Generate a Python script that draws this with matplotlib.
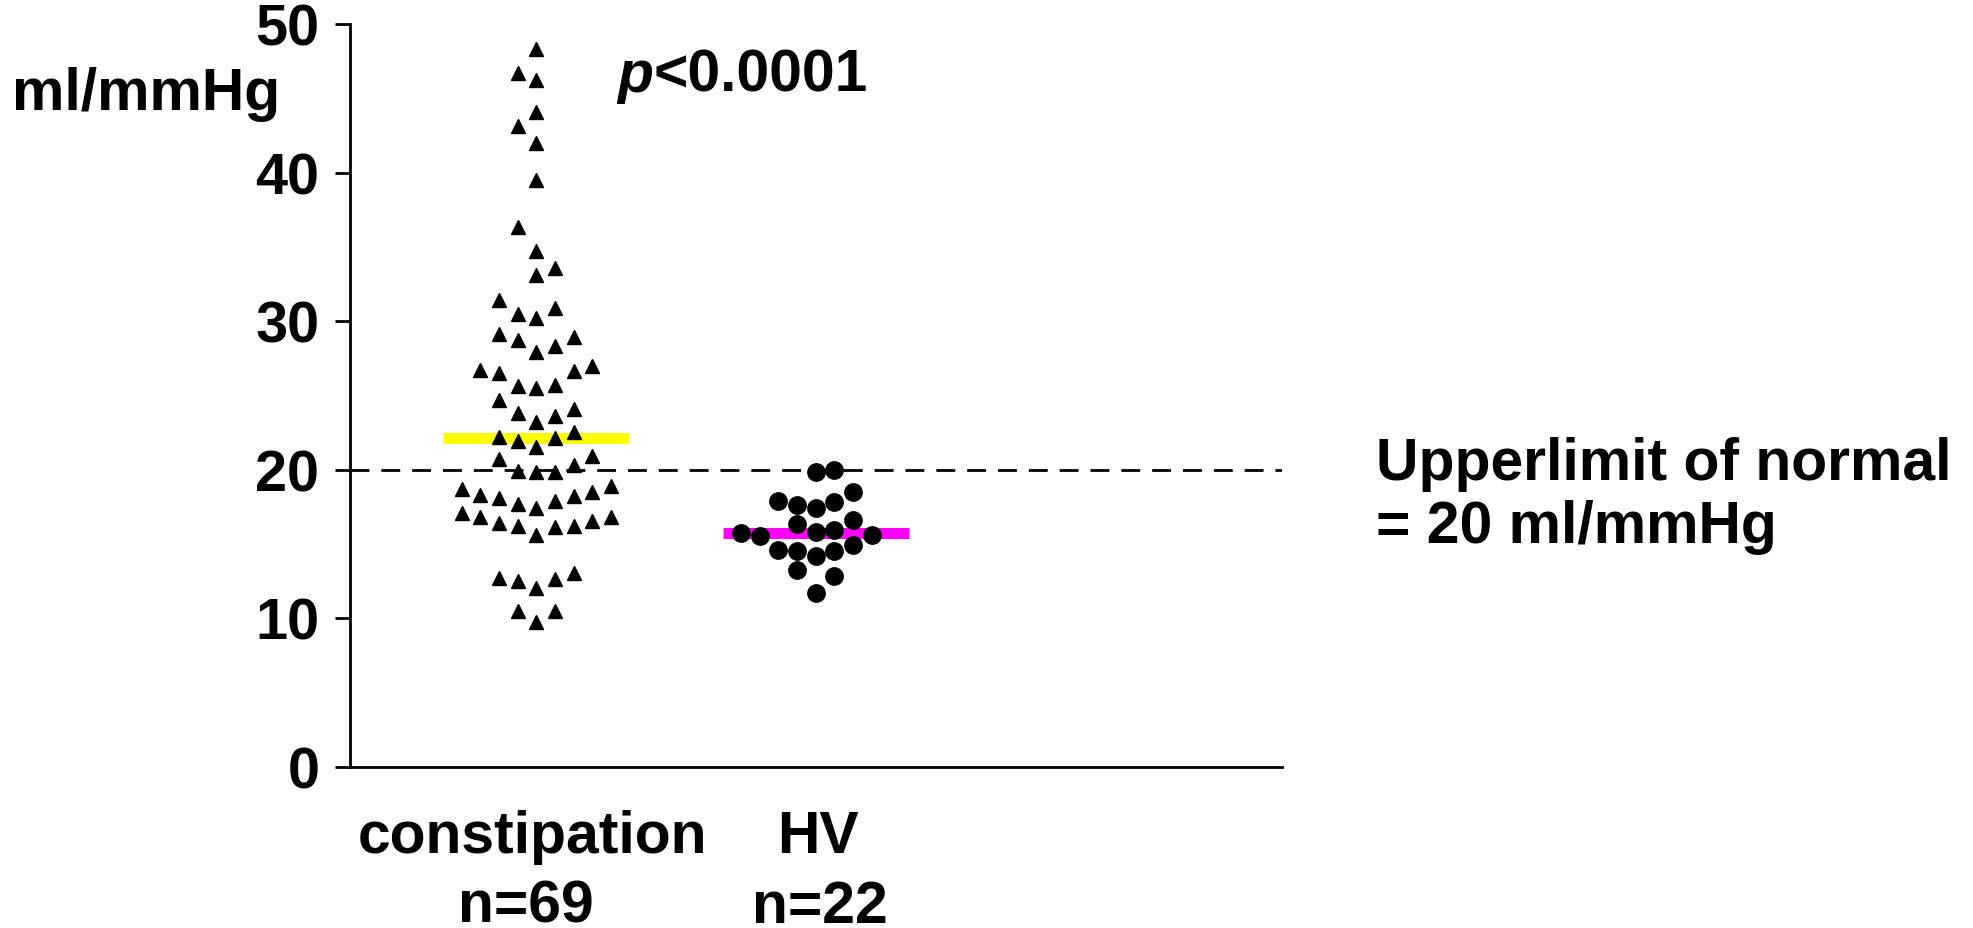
import numpy as np
import matplotlib
matplotlib.use("Agg")
import matplotlib.pyplot as plt

plt.rcParams["font.family"] = ["Liberation Sans", "DejaVu Sans"]
plt.rcParams["font.weight"] = "bold"

# compliance, ml/mmHg
constipation = [48.3, 46.7, 46.2, 44.1, 43.1, 42.0, 39.5, 36.3, 34.7, 33.6,
                33.1, 31.4, 30.5, 30.9, 30.2, 29.1, 28.7, 28.9, 28.3, 27.9,
                26.7, 26.5, 27.0, 26.6, 25.6, 25.5, 25.7, 24.7, 24.1, 23.8,
                23.2, 23.6, 22.2, 21.9, 22.1, 22.5, 21.5, 20.7, 20.9, 20.3,
                19.9, 19.8, 19.8, 18.7, 18.3, 18.1, 17.7, 17.4, 17.9, 18.2,
                18.5, 18.9, 17.1, 16.8, 16.4, 16.2, 15.6, 16.1, 16.2, 16.5,
                16.8, 12.7, 12.5, 12.0, 12.6, 13.0, 10.5, 9.7, 10.5]
hv = [19.8, 20.0, 17.9, 17.6, 17.4, 17.8, 18.5, 16.3, 16.6, 15.7, 15.5,
      15.8, 15.9, 15.6, 14.6, 14.5, 14.2, 14.5, 14.9, 13.2, 12.8, 11.7]

# swarm column of each point, in marker widths from the group centre
constipation_col = [0, -1, 0, 0, -1, 0, 0, -1, 0, 1,
                    0, -2, -1, 1, 0, -2, -1, 2, 1, 0,
                    -3, -2, 3, 2, -1, 0, 1, -2, 2, -1,
                    0, 1, -2, -1, 1, 2, 0, -2, 3, 2,
                    -1, 0, 1, -4, -3, -2, -1, 0, 1, 2,
                    3, 4, -4, -3, -2, -1, 0, 1, 2, 3,
                    4, -2, -1, 0, 1, 2, -1, 0, 1]
hv_col = [0, 1, -2, -1, 0, 1, 2, -1, 2, -4, -3,
          0, 1, 3, -2, -1, 0, 1, 2, -1, 1, 0]

upper_normal = 20
y_ticks = [0, 10, 20, 30, 40, 50]

W, H = 1973, 929
fig = plt.figure(figsize=(W / 100, H / 100), dpi=100)
ax = fig.add_axes([350 / W, 1 - 767.5 / H, 931.5 / W, 742.5 / H])

step = 0.2
c_x = 2 + step * np.array(constipation_col)
h_x = 5 + step * np.array(hv_col)

# group medians
ax.hlines(np.median(constipation), 1, 3, color="#ffff00", lw=8, zorder=2)
ax.hlines(np.median(hv), 4, 6, color="#ff00ff", lw=8, zorder=2)
ax.axhline(upper_normal, color="black", lw=2, ls=(0, (6.8, 4.3)), zorder=1)

ax.plot(c_x, constipation, ls="none", marker="^", ms=10.5, color="black",
        zorder=3)
ax.plot(h_x, hv, ls="none", marker="o", ms=12.5, color="black", zorder=3)

ax.set_xlim(0, 10)
ax.set_ylim(0, 50)
ax.set_xticks([])
ax.set_yticks(y_ticks)
ax.tick_params(axis="y", direction="out", length=11, width=2, pad=11,
               labelsize=41.5)
for lab in ax.get_yticklabels():
    lab.set_fontweight("bold")
for side in ("top", "right"):
    ax.spines[side].set_visible(False)
for side in ("left", "bottom"):
    ax.spines[side].set_linewidth(2)

fs = 42.4
fig.text(12 / W, 1 - 110 / H, "ml/mmHg", fontsize=fs, fontweight="bold",
         ha="left", va="baseline")

p = ax.text(2.87, 45.5, "p", fontsize=fs, fontweight="bold",
            fontstyle="italic", ha="left", va="baseline")
ax.annotate("<0.0001", xy=(1, 0), xycoords=p, fontsize=fs, fontweight="bold",
            ha="left", va="bottom")

fig.text(532 / W, 1 - 853 / H, "constipation", fontsize=fs, fontweight="bold",
         ha="center", va="baseline")
fig.text(526 / W, 1 - 923 / H, "n=69", fontsize=fs, fontweight="bold",
         ha="center", va="baseline")
fig.text(818 / W, 1 - 853 / H, "HV", fontsize=fs, fontweight="bold",
         ha="center", va="baseline")
fig.text(820 / W, 1 - 923 / H, "n=22", fontsize=fs, fontweight="bold",
         ha="center", va="baseline")

fig.text(1376 / W, 1 - 480 / H, "Upperlimit of normal", fontsize=fs,
         fontweight="bold", ha="left", va="baseline")
fig.text(1376 / W, 1 - 543 / H, f"= {upper_normal} ml/mmHg", fontsize=fs,
         fontweight="bold", ha="left", va="baseline")

fig.savefig("out.png", dpi=100)
